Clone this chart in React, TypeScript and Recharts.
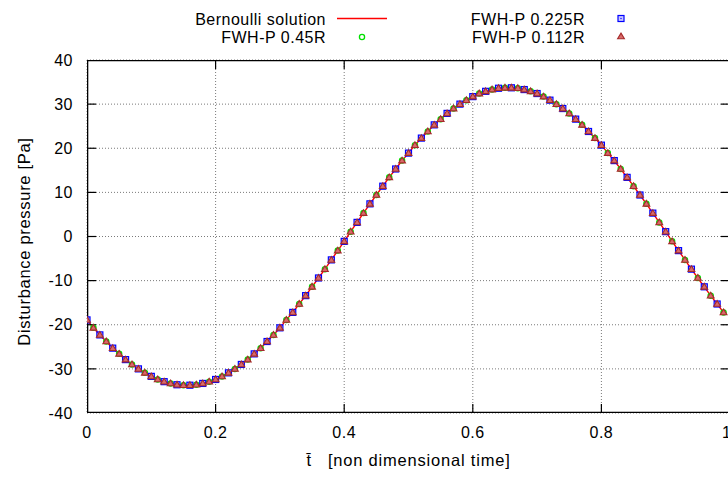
import React from "react";
import { ComposedChart, Line, Scatter, XAxis, YAxis, CartesianGrid } from "recharts";

// disturbance pressure [Pa], sampled every 0.01 of non dimensional time
const pressure = [
  -18.9, -20.7, -22.3, -23.8, -25.3, -26.6, -27.9, -29.0, -30.0, -30.9,
  -31.7, -32.4, -32.9, -33.3, -33.6, -33.7, -33.7, -33.6, -33.3, -32.9,
  -32.4, -31.7, -30.9, -30.0, -29.0, -27.9, -26.6, -25.3, -23.8, -22.3,
  -20.7, -18.9, -17.2, -15.3, -13.4, -11.4, -9.4, -7.4, -5.3, -3.2,
  -1.1, 1.1, 3.2, 5.3, 7.4, 9.4, 11.4, 13.4, 15.3, 17.2,
  18.9, 20.7, 22.3, 23.8, 25.3, 26.6, 27.9, 29.0, 30.0, 30.9,
  31.7, 32.4, 32.9, 33.3, 33.6, 33.7, 33.7, 33.6, 33.3, 32.9,
  32.4, 31.7, 30.9, 30.0, 29.0, 27.9, 26.6, 25.3, 23.8, 22.3,
  20.7, 18.9, 17.2, 15.3, 13.4, 11.4, 9.4, 7.4, 5.3, 3.2,
  1.1, -1.1, -3.2, -5.3, -7.4, -9.4, -11.4, -13.4, -15.3, -17.2,
];
const STEP = 0.01;
const xTicks = [0, 0.2, 0.4, 0.6, 0.8, 1];
const yTicks = [-40, -30, -20, -10, 0, 10, 20, 30, 40];
const X_MIN = 0, X_MAX = 1, Y_MIN = -40, Y_MAX = 40;

const bernoulli = pressure.map((p, i) => ({ t: +(i * STEP).toFixed(2), p }));
const fwh045 = bernoulli.filter((_, i) => i % 2 === 1);
const fwh0225 = bernoulli.filter((_, i) => i % 2 === 0);
const fwh0112 = bernoulli;

// gnuplot-style border and inward tick marks, placed through the chart's own scales
const border = [
  { t: X_MIN, p: Y_MIN }, { t: X_MIN, p: Y_MAX }, { t: X_MAX, p: Y_MAX },
  { t: X_MAX, p: Y_MIN }, { t: X_MIN, p: Y_MIN },
];
const bottomTicks = xTicks.map((t) => ({ t, p: Y_MIN }));
const topTicks = xTicks.map((t) => ({ t, p: Y_MAX }));
const leftTicks = yTicks.map((p) => ({ t: X_MIN, p }));
const rightTicks = yTicks.map((p) => ({ t: X_MAX, p }));

const FONT = "'Liberation Sans', Arial, Helvetica, sans-serif";
const FS = 16;
const LS = 0.5;
const tickStyle = { fill: "#000", fontSize: FS, fontFamily: FONT, letterSpacing: LS };
const RED = "#ff0000";
const GREEN = "#00e000";
const BLUE = "#0000ff";
const BROWN = "#a52a2a";
const TL = 9;

const Square = ({ cx, cy }: any) => (
  <g>
    <rect x={cx - 3} y={cy - 3} width={6} height={6} fill="#9090ff" fillOpacity={0.5} stroke={BLUE} strokeWidth={1.2} />
    <rect x={cx - 0.6} y={cy - 0.6} width={1.2} height={1.2} fill={BLUE} />
  </g>
);
const Circle = ({ cx, cy }: any) => (
  <circle cx={cx} cy={cy} r={2.6} fill="none" stroke={GREEN} strokeWidth={1.3} />
);
const Triangle = ({ cx, cy }: any) => (
  <polygon points={`${cx},${cy - 3.4} ${cx + 3.4},${cy + 2.3} ${cx - 3.4},${cy + 2.3}`}
    fill="#d86a6a" stroke={BROWN} strokeWidth={1.1} />
);
const TickUp = ({ cx, cy }: any) => <line x1={cx} x2={cx} y1={cy} y2={cy - TL} stroke="#000" strokeWidth={1.2} />;
const TickDown = ({ cx, cy }: any) => <line x1={cx} x2={cx} y1={cy} y2={cy + TL} stroke="#000" strokeWidth={1.2} />;
const TickRight = ({ cx, cy }: any) => <line x1={cx} x2={cx + TL} y1={cy} y2={cy} stroke="#000" strokeWidth={1.2} />;
const TickLeft = ({ cx, cy }: any) => <line x1={cx} x2={cx - TL} y1={cy} y2={cy} stroke="#000" strokeWidth={1.2} />;

const YTitle = ({ viewBox }: any) => {
  const x = viewBox.x + 24;
  const y = viewBox.y + viewBox.height / 2 + 5;
  return (
    <text x={x} y={y} transform={`rotate(-90 ${x} ${y})`} textAnchor="middle" dominantBaseline="central"
      fontSize={16.5} fontFamily={FONT} letterSpacing={0.7} fill="#000">
      Disturbance pressure [Pa]
    </text>
  );
};

const XTitle = ({ viewBox }: any) => (
  <text x={viewBox.x + viewBox.width / 2} y={466} textAnchor="middle" fontSize={16.5} fontFamily={FONT} letterSpacing={0.8} fill="#000">
    {"t\u0304\u00A0\u00A0 [non dimensional time]"}
  </text>
);

function LegendBox() {
  const txt = { fontSize: FS, fontFamily: FONT, letterSpacing: LS, fill: "#000", textAnchor: "end" as const };
  return (
    <svg width={728} height={60} style={{ position: "absolute", left: 0, top: 0 }}>
      <text x={326} y={25} {...txt}>Bernoulli solution</text>
      <line x1={337} x2={387} y1={18.5} y2={18.5} stroke={RED} strokeWidth={1.3} />
      <text x={326} y={42.5} {...txt}>FWH-P 0.45R</text>
      <Circle cx={362} cy={37} />
      <text x={585} y={25} {...txt}>FWH-P 0.225R</text>
      <Square cx={621} cy={18.5} />
      <text x={585} y={42.5} {...txt}>FWH-P 0.112R</text>
      <Triangle cx={621} cy={36.5} />
    </svg>
  );
}

export default function App() {
  return (
    <div style={{ position: "absolute", left: 0, top: 0, width: 728, height: 477, overflow: "hidden", background: "#fff" }}>
      <ComposedChart width={731} height={477} margin={{ top: 60, right: 1, bottom: 0, left: 0 }}>
        <CartesianGrid stroke="#7a7a7a" strokeDasharray="1 2" />
        <XAxis dataKey="t" type="number" domain={[X_MIN, X_MAX]} ticks={xTicks} height={64} allowDataOverflow
          tick={tickStyle} tickLine={false} tickSize={0} tickMargin={14} axisLine={false}
          label={{ content: XTitle }} />
        <YAxis type="number" domain={[Y_MIN, Y_MAX]} ticks={yTicks} width={87} allowDataOverflow
          tick={tickStyle} tickLine={false} tickSize={0} tickMargin={14} axisLine={false}
          label={{ content: YTitle }} />
        <Scatter data={bottomTicks} dataKey="p" shape={TickUp} isAnimationActive={false} legendType="none" />
        <Scatter data={topTicks} dataKey="p" shape={TickDown} isAnimationActive={false} legendType="none" />
        <Scatter data={leftTicks} dataKey="p" shape={TickRight} isAnimationActive={false} legendType="none" />
        <Scatter data={rightTicks} dataKey="p" shape={TickLeft} isAnimationActive={false} legendType="none" />
        <Line data={border} dataKey="p" stroke="#000" strokeWidth={2.6} dot={false} isAnimationActive={false} legendType="none" />
        <Line data={bernoulli} dataKey="p" stroke={RED} strokeWidth={1.4} dot={false} isAnimationActive={false} />
        <Scatter data={fwh045} dataKey="p" shape={Circle} isAnimationActive={false} />
        <Scatter data={fwh0225} dataKey="p" shape={Square} isAnimationActive={false} />
        <Scatter data={fwh0112} dataKey="p" shape={Triangle} isAnimationActive={false} />
      </ComposedChart>
      <LegendBox />
    </div>
  );
}
